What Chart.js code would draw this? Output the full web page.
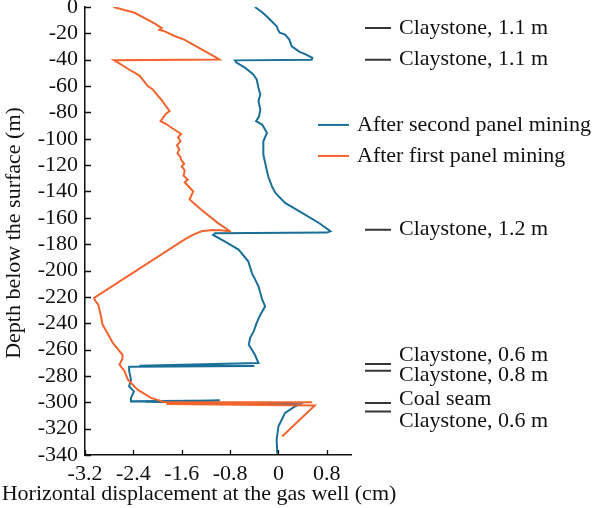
<!DOCTYPE html>
<html>
<head>
<meta charset="utf-8">
<script src="https://cdn.jsdelivr.net/npm/chart.js@4/dist/chart.umd.min.js"></script>
<style>body{margin:0;background:#fff}</style>
</head>
<body>
<canvas id="c" width="600" height="508"></canvas>
<script>
// depth (m) / horizontal displacement (cm), read along each profile
const firstDepth = [0, -4.4, -12.5, -16, -17.5, -18.5, -22, -25, -27, -38.6, -39.8, -40.4, -41.5, -48, -52, -60, -62.6, -66, -67.7, -70.2, -75.3, -79, -81, -86.7, -89, -92.2, -96.3, -99, -102, -105, -108, -111, -114, -116, -119, -121, -124, -128, -131, -133, -137, -140, -146, -149, -154, -164, -170.2, -170.3, -169.4, -169.3, -170.2, -172.5, -176.3, -220.8, -223, -226, -230, -234, -241, -247.4, -255, -264, -267, -271.5, -276, -282.8, -290.4, -296.7, -300, -300, -301.3, -302.5, -326];
const firstDisp = [-2.73, -2.38, -2.05, -1.93, -1.97, -1.88, -1.72, -1.55, -1.47, -1.02, -0.98, -2.72, -2.68, -2.45, -2.30, -2.16, -2.08, -2.02, -1.99, -1.94, -1.86, -1.80, -1.86, -1.95, -1.85, -1.75, -1.61, -1.66, -1.62, -1.68, -1.64, -1.67, -1.62, -1.61, -1.56, -1.60, -1.55, -1.57, -1.50, -1.55, -1.47, -1.41, -1.47, -1.40, -1.27, -1.00, -0.80, -0.80, -0.95, -1.10, -1.27, -1.40, -1.55, -3.05, -3.03, -2.98, -2.96, -2.94, -2.91, -2.83, -2.74, -2.58, -2.58, -2.63, -2.55, -2.49, -2.33, -2.11, -1.88, 0.56, -1.85, 0.60, 0.06];

const secondDepth = [0, -4, -8.2, -14.6, -17, -19.5, -20.9, -24.7, -29.8, -34, -36, -38.6, -40, -40.5, -42, -46.2, -51, -55, -61.4, -66.4, -71.5, -77.8, -83, -86.7, -89.2, -95.5, -101.9, -112, -118.3, -128.5, -136, -141.1, -148.7, -156.3, -163.9, -170.2, -171.2, -171.8, -173, -177.8, -184.1, -193, -201.8, -212, -222, -227.2, -233.5, -239.8, -246.2, -251.2, -256.3, -263.9, -270.2, -272.2, -272.4, -273, -276, -282.8, -287.9, -291.7, -296.7, -299.3, -298.6, -299.6, -301.5, -303, -308, -318.3, -328.4, -339];
const secondDisp = [-0.39, -0.27, -0.17, -0.03, -0.01, 0.02, 0.11, 0.18, 0.22, 0.35, 0.45, 0.56, 0.55, -0.72, -0.70, -0.55, -0.42, -0.36, -0.33, -0.30, -0.33, -0.30, -0.32, -0.37, -0.27, -0.19, -0.25, -0.25, -0.22, -0.17, -0.11, -0.05, 0.11, 0.39, 0.67, 0.86, 0.80, -1.05, -1.08, -0.89, -0.66, -0.50, -0.44, -0.33, -0.27, -0.22, -0.30, -0.36, -0.41, -0.47, -0.49, -0.39, -0.33, -2.30, -0.40, -2.47, -2.47, -2.44, -2.47, -2.39, -2.44, -2.44, -0.97, -2.20, 0.35, 0.28, 0.11, 0.00, -0.03, -0.02];

const xTicks = [-3.2, -2.4, -1.6, -0.8, 0, 0.8];
const yTicks = [0, -20, -40, -60, -80, -100, -120, -140, -160, -180, -200, -220, -240, -260, -280, -300, -320, -340];

// strata marked at the right of the plot
const layerLineDepths = [-16, -40, -169, -271, -276, -300.5, -307];
const layerLabels = ["Claystone, 1.1 m", "Claystone, 1.1 m", "Claystone, 1.2 m", "Claystone, 0.6 m", "Claystone, 0.8 m", "Coal seam", "Claystone, 0.6 m"];
const layerLabelDepths = [-16.3, -40, -169, -264.6, -279.8, -298, -314.5];

const BLUE = "#1a6f98";
const ORANGE = "#f2642e";
const FONT = "'Liberation Serif', 'Times New Roman', serif";

const pts = (xs, ys) => xs.map((x, i) => ({ x, y: ys[i] }));

const extras = {
  id: "extras",
  afterDraw(chart) {
    const { ctx, chartArea: a, scales: { x, y } } = chart;
    ctx.save();
    // inward ticks
    ctx.strokeStyle = "#111";
    ctx.lineWidth = 1.3;
    ctx.beginPath();
    for (const v of yTicks) {
      const py = Math.round(y.getPixelForValue(v)) + 0.5;
      ctx.moveTo(a.left, py); ctx.lineTo(a.left + 6, py);
    }
    for (const v of xTicks) {
      const px = Math.round(x.getPixelForValue(v)) + 0.5;
      ctx.moveTo(px, a.bottom); ctx.lineTo(px, a.bottom - 5);
    }
    ctx.stroke();

    // legend
    ctx.font = `22px ${FONT}`;
    ctx.textBaseline = "middle";
    ctx.fillStyle = "#111";
    chart.data.datasets.forEach((ds, i) => {
      const ly = y.getPixelForValue(-89.5) + i * 31;
      ctx.strokeStyle = ds.borderColor;
      ctx.lineWidth = 2;
      ctx.beginPath();
      ctx.moveTo(a.right - 33, ly); ctx.lineTo(a.right - 2, ly);
      ctx.stroke();
      ctx.fillText(ds.label, a.right + 6, ly);
    });

    // strata
    ctx.strokeStyle = "#3a3632";
    ctx.lineWidth = 2;
    ctx.beginPath();
    for (const d of layerLineDepths) {
      const py = y.getPixelForValue(d);
      ctx.moveTo(a.right + 14, py); ctx.lineTo(a.right + 40, py);
    }
    ctx.stroke();
    layerLabels.forEach((t, i) => ctx.fillText(t, a.right + 48, y.getPixelForValue(layerLabelDepths[i])));

    // axis titles
    ctx.textAlign = "center";
    ctx.fillText("Horizontal displacement at the gas well (cm)", a.left + 114, a.bottom + 39);
    ctx.translate(14, (a.top + a.bottom) / 2 + 2);
    ctx.rotate(-Math.PI / 2);
    ctx.fillText("Depth below the surface (m)", 0, 0);
    ctx.restore();
  }
};

new Chart(document.getElementById("c"), {
  type: "scatter",
  data: {
    datasets: [
      { label: "After second panel mining", data: pts(secondDisp, secondDepth), borderColor: BLUE, backgroundColor: BLUE, order: 1 },
      { label: "After first panel mining", data: pts(firstDisp, firstDepth), borderColor: ORANGE, backgroundColor: ORANGE, order: 0 },
    ],
  },
  options: {
    responsive: false,
    animation: false,
    showLine: true,
    elements: { point: { radius: 0 }, line: { borderWidth: 2, tension: 0 } },
    layout: { padding: { top: 7, right: 249, left: 0, bottom: 0 } },
    plugins: { legend: { display: false }, tooltip: { enabled: false } },
    scales: {
      x: {
        min: -3.2, max: 1.2,
        afterBuildTicks: s => { s.ticks = xTicks.map(v => ({ value: v })); },
        afterFit: s => { s.height = 53; s.paddingLeft = 0; s.paddingRight = 0; },
        grid: { display: false, drawTicks: false },
        border: { display: true, color: "#111", width: 1.5 },
        ticks: { color: "#111", padding: 6, autoSkip: false, maxRotation: 0, font: { family: FONT, size: 22 }, callback: v => String(Math.round(v * 10) / 10) },
      },
      y: {
        min: -340, max: 0,
        afterBuildTicks: s => { s.ticks = yTicks.map(v => ({ value: v })); },
        afterFit: s => { s.width = 85; s.paddingTop = 0; s.paddingBottom = 0; },
        grid: { display: false, drawTicks: false },
        border: { display: true, color: "#111", width: 1.5 },
        ticks: { color: "#111", padding: 7, autoSkip: false, font: { family: FONT, size: 22 }, callback: v => String(v) },
      },
    },
  },
  plugins: [extras],
});
</script>
</body>
</html>
